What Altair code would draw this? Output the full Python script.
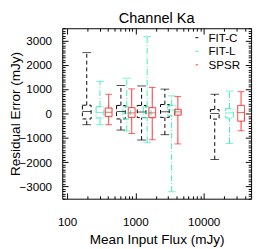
import altair as alt
import pandas as pd

methods = ["FIT-C", "FIT-L", "SPSR"]
colors = ["#000000", "#38f0b8", "#ff2020"]
dashes = [[4, 3], [6, 2, 1, 2], [1, 0]]
box_widths = [9, 7, 6]

# mean input flux (x position) of each box, per method
flux_fitc = [194, 614, 1233, 2704, 14520]
flux_fitl = [303, 748, 1486, 3396, 23870]
flux_spsr = [406, 883, 1766, 4188, 35260]

# whisker low, first quartile, median, third quartile, whisker high (mJy)
low_fitc = [-460, -680, -1090, -870, -1890]
q1_fitc = [-225, -225, -170, -160, -230]
med_fitc = [80, 80, 60, 70, 0]
q3_fitc = [340, 330, 330, 370, 160]
high_fitc = [2500, 1150, 1130, 1000, 790]

low_fitl = [-460, -720, -1185, -3215, -1230]
q1_fitl = [-185, -225, -170, -90, -185]
med_fitl = [40, 10, 30, 140, 25]
q3_fitl = [280, 280, 270, 330, 200]
high_fitl = [1320, 1450, 3160, 725, 920]

low_spsr = [-460, -820, -1080, -1250, -710]
q1_spsr = [-120, -160, -170, -65, -315]
med_spsr = [50, 25, 25, 65, 40]
q3_spsr = [225, 240, 240, 170, 330]
high_spsr = [790, 1010, 1070, 700, 895]

x_major = [100, 1000, 10000]
x_minor = [v * m for v in [100, 1000, 10000] for m in range(2, 10) if v * m <= 42000]
y_major = [-3000, -2000, -1000, 0, 1000, 2000, 3000]
y_minor = [v for v in range(-3500, 3501, 100) if v % 1000 != 0]

rows = []
for name, fl, lo, a, m, b, hi in [
    ("FIT-C", flux_fitc, low_fitc, q1_fitc, med_fitc, q3_fitc, high_fitc),
    ("FIT-L", flux_fitl, low_fitl, q1_fitl, med_fitl, q3_fitl, high_fitl),
    ("SPSR", flux_spsr, low_spsr, q1_spsr, med_spsr, q3_spsr, high_spsr),
]:
    for i in range(len(fl)):
        rows.append(dict(method=name, flux=fl[i], low=lo[i], q1=a[i], med=m[i], q3=b[i], high=hi[i]))
df = pd.DataFrame(rows)

W, H = 195, 176
FONT = "Liberation Sans"
xs = alt.Scale(type="log", domain=[100, 42000], nice=False)
ys = alt.Scale(domain=[-3500, 3500], nice=False, zero=False)

leg = alt.Legend(title=None, orient="none", legendX=133, legendY=3, symbolType="stroke",
                 symbolSize=324, symbolStrokeWidth=1, labelFontSize=12, labelFont=FONT,
                 labelColor="black", clipHeight=13.5, rowPadding=0, labelOffset=6, padding=0)
color_leg = alt.Color("method:N", scale=alt.Scale(domain=methods, range=colors), legend=leg)
dash_leg = alt.StrokeDash("method:N", scale=alt.Scale(domain=methods, range=dashes), legend=leg)
color_nl = alt.Color("method:N", scale=alt.Scale(domain=methods, range=colors), legend=None)
stroke_nl = alt.Stroke("method:N", scale=alt.Scale(domain=methods, range=colors), legend=None)
dash_nl = alt.StrokeDash("method:N", scale=alt.Scale(domain=methods, range=dashes), legend=None)
size_nl = alt.Size("method:N", scale=alt.Scale(domain=methods, range=box_widths), legend=None)

base = alt.Chart(df)
xenc = alt.X("flux:Q", scale=xs, axis=None)

wl = base.mark_rule(strokeWidth=1).encode(
    x=xenc, y=alt.Y("low:Q", scale=ys, axis=None), y2="q1", color=color_leg, strokeDash=dash_leg)
wh = base.mark_rule(strokeWidth=1).encode(
    x=xenc, y=alt.Y("q3:Q", scale=ys, axis=None), y2="high", color=color_nl, strokeDash=dash_nl)
cap_lo = base.mark_tick(orient="horizontal", thickness=1).encode(
    x=xenc, y=alt.Y("low:Q", scale=ys, axis=None), color=color_nl, size=size_nl)
cap_hi = base.mark_tick(orient="horizontal", thickness=1).encode(
    x=xenc, y=alt.Y("high:Q", scale=ys, axis=None), color=color_nl, size=size_nl)
box = base.mark_bar(fillOpacity=0, strokeWidth=1).encode(
    x=xenc, y=alt.Y("q1:Q", scale=ys, axis=None), y2="q3", stroke=stroke_nl,
    strokeDash=dash_nl, size=size_nl)
med = base.mark_tick(orient="horizontal", thickness=1).encode(
    x=xenc, y=alt.Y("med:Q", scale=ys, axis=None), color=color_nl, size=size_nl)

labels = base.mark_point(opacity=0).encode(
    x=alt.X("flux:Q", scale=xs, title="Mean Input Flux (mJy)",
            axis=alt.Axis(orient="bottom", values=x_major, format="d", ticks=False, tickSize=0,
                          domain=False, grid=False, labelPadding=19, labelFontSize=12,
                          labelColor="black", titleFontSize=14, titleFontWeight="normal",
                          titleColor="black", titlePadding=5, labelFlush=False)),
    y=alt.Y("med:Q", scale=ys, title="Residual Error (mJy)",
            axis=alt.Axis(orient="left", values=y_major, format="d", ticks=False, tickSize=0,
                          domain=False, grid=False, labelPadding=11, labelFontSize=12,
                          labelColor="black", titleFontSize=14, titleFontWeight="normal",
                          titleColor="black", titleX=-48, titleBaseline="middle")),
)


def tick_layer(xo, yo, xv, yv, sz):
    return base.mark_point(opacity=0).encode(
        x=alt.X("flux:Q", scale=xs, title=None,
                axis=alt.Axis(orient=xo, offset=-H, values=xv, labels=False, domain=False,
                              grid=False, tickSize=sz, tickColor="black", tickWidth=1)),
        y=alt.Y("med:Q", scale=ys, title=None,
                axis=alt.Axis(orient=yo, offset=-W, values=yv, labels=False, domain=False,
                              grid=False, tickSize=sz, tickColor="black", tickWidth=1)),
    )


t1 = tick_layer("top", "right", x_major, y_major, 6)
t2 = tick_layer("bottom", "left", x_major, y_major, 6)
t3 = tick_layer("top", "right", x_minor, y_minor, 3)
t4 = tick_layer("bottom", "left", x_minor, y_minor, 3)

chart = alt.layer(wl, wh, cap_lo, cap_hi, box, med, labels, t1, t2, t3, t4).resolve_axis(
    x="independent", y="independent"
).properties(
    width=W, height=H,
    title=alt.TitleParams("Channel Ka", fontSize=15, fontWeight="normal", offset=3, dy=13,
                          frame="group", baseline="alphabetic", anchor="middle",
                          color="black", font=FONT),
    autosize=alt.AutoSizeParams(type="none"),
    padding={"left": 56, "top": 17, "right": 3, "bottom": 48},
).configure(font=FONT).configure_view(stroke="black", strokeWidth=1)

chart.save("out.html", embed_options={"renderer": "svg", "actions": False})
